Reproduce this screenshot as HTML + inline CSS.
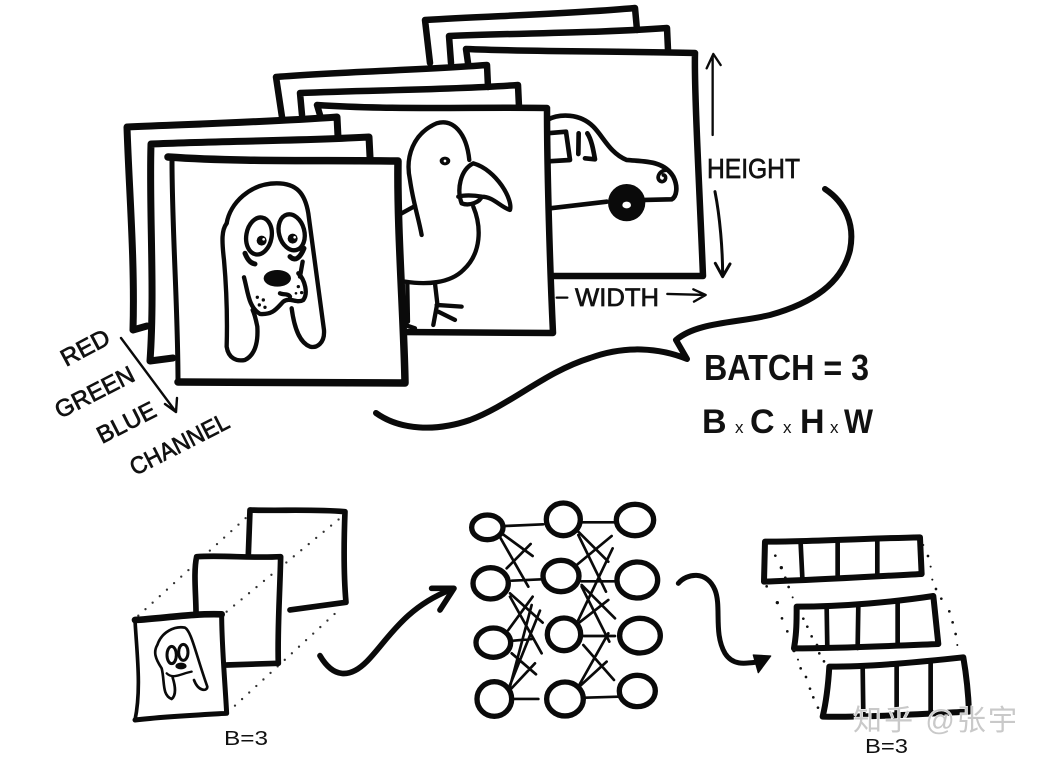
<!DOCTYPE html>
<html><head><meta charset="utf-8"><style>
html,body{margin:0;padding:0;background:#fff}
svg{display:block}
text{font-family:"Liberation Sans","Noto Sans CJK SC",sans-serif;fill:#111}
.t{stroke:#111;stroke-width:.7}
.s{fill:none;stroke:#0a0a0a;stroke-linecap:round;stroke-linejoin:round}
</style></head><body>
<svg width="1044" height="762" viewBox="0 0 1044 762" xmlns="http://www.w3.org/2000/svg">
<rect width="1044" height="762" fill="#fff"/>

<!-- car stack -->
<g class="s" stroke-width="6.5">
<path d="M430 63 L425 20 C490 16 570 14 635 8 L637 30"/>
<path d="M451 63 L449 36 C520 33 600 33 667 28 L668 50"/>
<path d="M468 63 L466 49 C540 52 620 51 695 53 C694 90 700 200 703 276 L545 276"/>
</g>
<g transform="translate(530,0) scale(.3333)" stroke-width="14">
<path class="s" d="M50 360 C90 340 150 340 190 380 C220 410 240 460 290 480 C340 485 400 480 430 530 C445 560 440 590 425 598 L345 600"/>
<path class="s" d="M60 625 L230 605"/>
<circle cx="290" cy="608" r="56" fill="#0a0a0a"/><ellipse cx="290" cy="615" rx="13" ry="10" fill="#fff"/>
<path class="s" d="M50 400 L108 395 L120 480 L55 484 M145 462 L146 400 M172 400 C185 420 190 450 195 478 L165 475"/>
<path class="s" stroke-width="11" d="M412 510 C385 510 375 540 395 545 C410 545 410 525 400 525"/>
</g>

<!-- bird stack -->
<g class="s" stroke-width="6.5">
<path d="M282 117 L276 77 C340 72 420 70 487 65 L488 87"/>
<path d="M302 115 L300 93 C370 90 450 90 518 85 L519 107"/>
</g>
<path d="M317 105 L547 108 L553 333 L403 333 Z" fill="#fff"/>
<path class="s" stroke-width="6.5" d="M320 115 L317 105 C390 110 470 107 547 108 C547 170 550 270 553 333 L400 332"/>
<g transform="translate(120,0) scale(.3333)" stroke-width="13">
<path class="s" d="M905 705 C895 650 880 610 870 540 C855 470 880 400 950 370 C1000 355 1040 400 1048 480"/>
<path class="s" d="M1060 490 C1020 510 1010 570 1025 610 C1050 620 1080 605 1085 590 C1120 590 1140 620 1170 630 C1180 600 1130 510 1060 490Z M1015 590 C1030 585 1060 585 1085 590"/>
<path class="s" d="M1060 620 C1085 680 1085 760 1030 810 C990 850 920 855 855 845"/>
<path class="s" d="M845 640 L885 618 M945 850 L952 910 L940 975 M950 915 L1025 920 M955 935 L1005 960 M862 850 L864 965 M855 975 L885 985"/>
<ellipse cx="975" cy="483" rx="16" ry="13" fill="#0a0a0a"/><circle cx="975" cy="483" r="4" fill="#fff"/>
</g>

<!-- dog stack -->
<g class="s" stroke-width="7">
<path d="M133 330 L147 326 M133 330 C135 260 129 190 127 127 C195 124 270 122 337 117 L338 137"/>
<path d="M173 358 L150 361 C155 290 149 210 151 144 C220 141 300 141 369 137 L370 157"/>
</g>
<path d="M168 157 L398 161 L405 383 L178 382 Z" fill="#fff"/>
<path class="s" stroke-width="7.5" d="M168 157 C240 162 320 160 398 161 C397 230 404 320 405 383 L178 382"/>
<path class="s" stroke-width="5" d="M172 160 C172 230 178 310 178 382"/>
<g transform="translate(120,0) scale(.3333)" stroke-width="13">
<path class="s" d="M320 670 C330 610 390 550 470 550 C530 550 555 580 565 640 C575 720 590 830 612 990 C615 1030 590 1045 570 1040 C545 1030 525 1000 515 925"/>
<path class="s" d="M320 670 C305 690 305 720 312 780 C320 870 322 970 320 1040 C325 1075 350 1085 375 1080 C405 1065 415 1030 412 980 C408 960 405 945 398 930"/>
<ellipse class="s" cx="417" cy="708" rx="38" ry="56" transform="rotate(10 417 708)"/>
<ellipse class="s" cx="515" cy="697" rx="38" ry="55" transform="rotate(-15 515 697)"/>
<circle cx="425" cy="722" r="15" fill="#0a0a0a"/><circle cx="518" cy="716" r="15" fill="#0a0a0a"/>
<circle cx="431" cy="718" r="4" fill="#fff"/><circle cx="524" cy="712" r="4" fill="#fff"/>
<path class="s" stroke-width="15" d="M375 760 C385 785 395 790 405 792 M510 770 C525 785 540 775 552 745"/>
<ellipse cx="472" cy="835" rx="41" ry="25" fill="#0a0a0a"/>
<path class="s" d="M372 832 C385 880 385 920 420 942 C460 945 470 925 490 905 C510 890 530 912 550 900 C565 880 555 840 535 820 M548 785 L540 830 M480 880 C490 885 505 880 510 890"/>
<g fill="#0a0a0a"><circle cx="412" cy="892" r="5"/><circle cx="430" cy="900" r="5"/><circle cx="418" cy="915" r="5"/><circle cx="435" cy="922" r="5"/><circle cx="535" cy="860" r="5"/><circle cx="545" cy="878" r="5"/><circle cx="528" cy="880" r="4"/></g>
</g>

<!-- dimension arrows -->
<g transform="translate(530,0) scale(.3333)">
<path class="s" stroke-width="7" d="M548 405 L548 170 M530 205 L550 162 L572 195"/>
<path class="s" stroke-width="9" d="M555 575 C570 650 578 750 578 825 M556 790 L578 830 L600 792"/>
<path class="s" stroke-width="7" d="M80 893 L112 893 M412 882 L525 885 M490 868 L527 885 L492 905"/>
</g>
<text class="t" x="707" y="178" font-size="28" textLength="93" lengthAdjust="spacingAndGlyphs">HEIGHT</text>
<text class="t" x="575" y="306" font-size="25" textLength="84" lengthAdjust="spacingAndGlyphs">WIDTH</text>

<!-- speech tail -->
<path class="s" stroke-width="6" d="M825 189 C846 203 855 225 850 250 C842 283 813 303 770 315 C737 323 697 322 676 340 L687 359 C660 348 625 345 590 358 C545 372 510 405 470 420 C435 432 400 430 376 413"/>

<text x="704" y="380" font-size="36" font-weight="bold" textLength="165" lengthAdjust="spacingAndGlyphs">BATCH = 3</text>
<text x="702" y="433" font-size="34" font-weight="bold">B</text>
<text x="735" y="433" font-size="17">x</text>
<text x="750" y="433" font-size="34" font-weight="bold">C</text>
<text x="783" y="433" font-size="17">x</text>
<text x="800" y="433" font-size="34" font-weight="bold">H</text>
<text x="830" y="433" font-size="17">x</text>
<text x="844" y="433" font-size="34" font-weight="bold" textLength="29" lengthAdjust="spacingAndGlyphs">W</text>

<!-- channel labels -->
<g font-size="24" class="t">
<text class="t" transform="translate(66,367) rotate(-28)" textLength="52" lengthAdjust="spacingAndGlyphs">RED</text>
<text class="t" transform="translate(60,419) rotate(-27)" textLength="86" lengthAdjust="spacingAndGlyphs">GREEN</text>
<text class="t" transform="translate(102,444) rotate(-27)" textLength="63" lengthAdjust="spacingAndGlyphs">BLUE</text>
<text class="t" transform="translate(135,476) rotate(-27)" textLength="108" lengthAdjust="spacingAndGlyphs">CHANNEL</text>
</g>
<path class="s" stroke-width="2.4" d="M121 338 L176 412 M165 404 L176 412 L177 398"/>

<!-- batch input -->
<g transform="translate(120,495) scale(.3333)">
<g class="s" stroke-width="7" stroke-dasharray="0 29" style="stroke:#333">
<path d="M55 362 L385 62"/><path d="M320 350 L660 70"/><path d="M345 632 L660 342"/>
</g>
<path class="s" stroke-width="17" d="M510 345 L678 322 C670 230 672 130 675 50 C580 42 480 48 390 45 L385 180"/>
<path class="s" stroke-width="17" d="M320 510 L475 505 C472 400 480 290 482 185 C390 190 310 180 230 185 C220 230 228 300 228 350"/>
<path class="s" stroke-width="15" d="M45 675 C130 665 230 660 320 655 C315 560 305 450 305 358"/>
<path class="s" stroke-width="20" d="M45 375 C130 370 220 355 305 358"/>
<path class="s" stroke-width="11" d="M45 375 C50 470 65 580 45 675"/>
<path class="s" stroke-width="8" d="M195 398 C165 392 125 410 112 450 C100 470 105 490 125 520 C135 560 125 600 155 612 C170 600 165 570 158 548 M195 398 C215 410 228 480 262 575 C262 590 235 590 222 555"/>
<ellipse cx="155" cy="480" rx="14" ry="26" fill="none" stroke="#0a0a0a" stroke-width="9"/>
<ellipse cx="190" cy="472" rx="14" ry="24" fill="none" stroke="#0a0a0a" stroke-width="9"/>
<ellipse cx="183" cy="513" rx="17" ry="10" fill="#0a0a0a"/>
<path class="s" stroke-width="7" d="M140 535 C160 555 185 535 215 530"/>
<path class="s" stroke-width="17" d="M600 482 C640 550 690 550 740 500 C800 440 850 340 990 285"/>
<path class="s" stroke-width="17" d="M935 280 L1002 280 L960 345"/>
</g>
<text x="224" y="745" font-size="20" textLength="44" lengthAdjust="spacingAndGlyphs">B=3</text>

<!-- network -->
<g transform="translate(460,490) scale(.3333)">
<path class="s" stroke-width="8" d="M135 108 L250 103 M365 97 L465 97 M155 272 L245 268 M365 274 L465 274 M160 452 L215 447 M370 438 L465 438 M160 627 L235 627 M375 623 L475 620
M125 130 L218 198 M122 145 L205 290 M140 235 L212 162 M150 310 L248 398 M150 320 L245 490 M145 420 L218 320 M150 590 L215 345 M150 585 L240 362 M150 600 L225 520 M155 490 L228 553
M355 125 L445 215 M355 135 L438 305 M350 225 L455 138 M365 285 L465 385 M365 290 L448 455 M355 390 L458 175 M355 400 L445 330 M355 590 L445 430 M358 590 L440 515 M370 465 L462 570"/>
<g fill="#fff" stroke="#0a0a0a" stroke-width="16">
<ellipse cx="82" cy="112" rx="47" ry="37"/><ellipse cx="92" cy="280" rx="53" ry="47"/><ellipse cx="100" cy="458" rx="52" ry="44"/><ellipse cx="103" cy="627" rx="52" ry="52"/>
<ellipse cx="310" cy="88" rx="51" ry="49"/><ellipse cx="303" cy="258" rx="54" ry="47"/><ellipse cx="312" cy="433" rx="50" ry="49"/><ellipse cx="315" cy="627" rx="55" ry="51"/>
<ellipse cx="525" cy="90" rx="56" ry="47"/><ellipse cx="532" cy="270" rx="61" ry="54"/><ellipse cx="540" cy="437" rx="61" ry="52"/><ellipse cx="532" cy="603" rx="54" ry="47"/>
</g>
</g>

<!-- output -->
<g transform="translate(670,520) scale(.3333)">
<path class="s" stroke-width="15" d="M25 190 C50 160 110 150 135 210 C155 260 130 340 165 400 C190 440 230 430 270 425"/>
<path d="M250 405 L302 408 L265 458 Z" fill="#0a0a0a" stroke="#0a0a0a" stroke-width="4" stroke-linejoin="round"/>
<g class="s" stroke-width="18">
<path d="M285 65 C420 65 600 55 750 52 L755 162 C600 170 440 180 282 185 Z"/>
<path stroke-width="14" d="M392 70 L397 172 M503 65 L503 172 M622 58 L622 165"/>
<path d="M380 260 C520 260 680 245 790 228 L805 372 C660 378 510 385 372 385 C380 340 380 300 380 260"/>
<path stroke-width="14" d="M470 260 L472 384 M565 258 L563 384 M683 245 L683 378"/>
<path d="M478 440 C610 440 760 425 880 412 C890 470 895 520 897 575 C750 582 600 592 458 590 C470 540 475 490 478 440"/>
<path stroke-width="14" d="M578 436 L580 586 M680 430 L680 584 M782 422 L782 578"/>
</g>
<g fill="#111">
<circle cx="316" cy="107" r="4"/><circle cx="334" cy="143" r="5"/><circle cx="346" cy="173" r="4"/><circle cx="356" cy="201" r="4"/><circle cx="368" cy="232" r="3"/><circle cx="290" cy="199" r="4"/><circle cx="322" cy="248" r="5"/><circle cx="336" cy="295" r="4"/><circle cx="352" cy="334" r="4"/><circle cx="372" cy="392" r="5"/><circle cx="384" cy="419" r="3"/><circle cx="392" cy="445" r="4"/><circle cx="408" cy="471" r="4"/><circle cx="420" cy="506" r="4"/><circle cx="430" cy="532" r="4"/><circle cx="444" cy="563" r="4"/>
<circle cx="400" cy="296" r="4"/><circle cx="412" cy="320" r="4"/><circle cx="425" cy="349" r="4"/><circle cx="441" cy="375" r="4"/><circle cx="448" cy="400" r="4"/><circle cx="462" cy="424" r="4"/>
<circle cx="760" cy="75" r="3"/><circle cx="774" cy="108" r="4"/><circle cx="782" cy="140" r="3"/><circle cx="787" cy="179" r="3"/><circle cx="798" cy="207" r="4"/><circle cx="814" cy="236" r="4"/><circle cx="838" cy="274" r="4"/><circle cx="848" cy="307" r="4"/><circle cx="857" cy="342" r="4"/><circle cx="862" cy="375" r="3"/>
</g>
</g>

<text x="853" y="730" font-size="29" textLength="164" lengthAdjust="spacing" style="fill:#c9c9c9;stroke:#fff;stroke-width:1;paint-order:stroke">知乎 @张宇</text>
<text x="865" y="753" font-size="20" textLength="43" lengthAdjust="spacingAndGlyphs">B=3</text>
</svg>
</body></html>
